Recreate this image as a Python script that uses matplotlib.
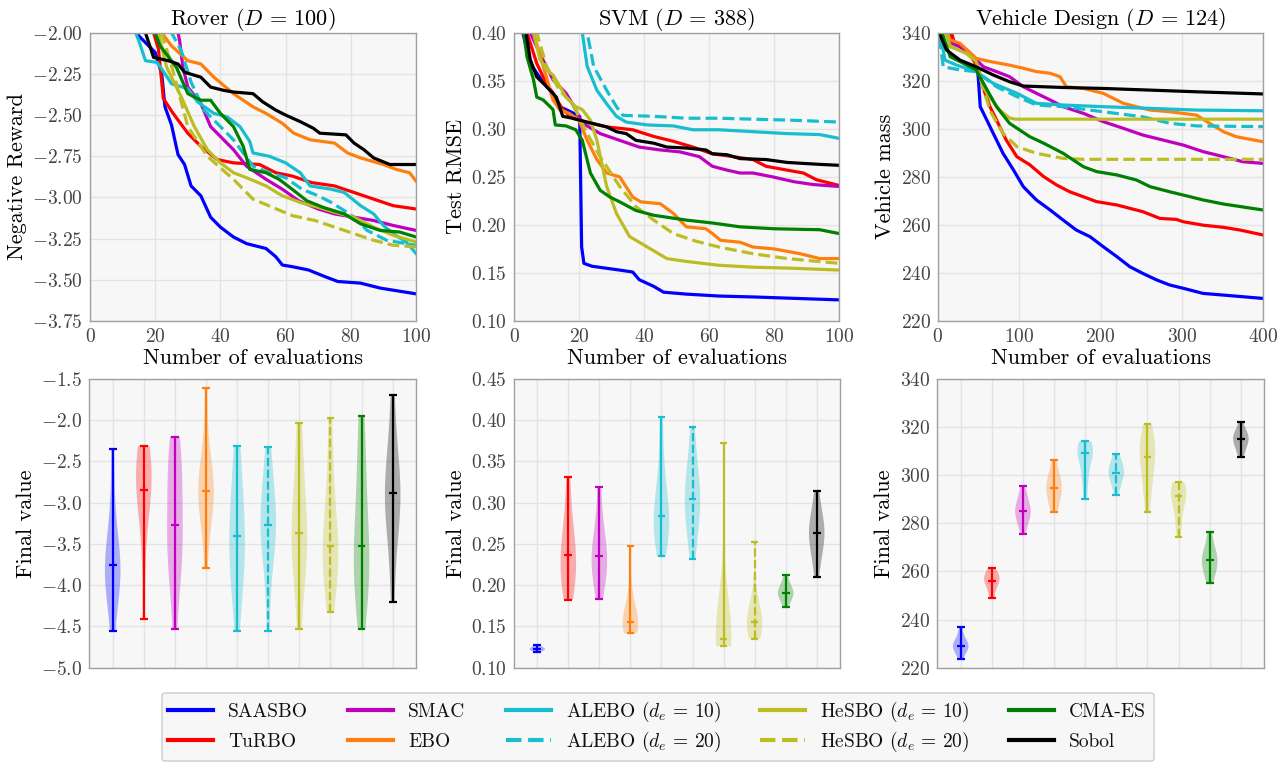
import matplotlib
matplotlib.use('Agg')
import matplotlib.pyplot as plt
from matplotlib.lines import Line2D
from matplotlib.patches import FancyBboxPatch

# Methods, colours and line styles (same order everywhere)
methods = ['SAASBO', 'TuRBO', 'SMAC', 'EBO', 'ALEBO ($d_e \\,=\\, 10$)', 'ALEBO ($d_e \\,=\\, 20$)',
           'HeSBO ($d_e \\,=\\, 10$)', 'HeSBO ($d_e \\,=\\, 20$)', 'CMA-ES', 'Sobol']
colors = ['#0000ff', '#ff0000', '#bf00bf', '#ff7f0e', '#17becf', '#17becf',
          '#bcbd22', '#bcbd22', '#008000', '#000000']
styles = ['-', '-', '-', '-', '-', '--', '-', '--', '-', '-']

# ---- Rover (D = 100): best value vs. number of evaluations ----
rover_x = [
    [10, 15, 20, 22, 23, 25, 27, 29, 31, 34, 37, 40, 44, 48, 54, 57, 59, 62, 67, 72, 76, 83, 89, 100],
    [18, 21, 22.5, 25.5, 30, 34, 39, 44, 52, 57, 62, 68, 75, 81, 87, 93, 100],
    [26, 27.5, 28.5, 30, 34, 37, 40, 44, 48, 54, 59, 64, 70, 75, 81, 87, 93, 100],
    [20, 22, 25, 30, 34, 38, 44, 50, 54, 59, 62.5, 67.5, 75, 79, 83, 90, 94, 98, 100],
    [12, 15, 17, 20.5, 22, 25, 30, 33, 38, 42, 46, 49, 50, 55, 60, 64.5, 67.5, 74, 78, 83, 87, 90, 93, 97, 100],
    [22, 25, 28, 31, 35, 40, 44, 50, 55, 60, 65, 70, 74, 78, 81, 85, 91, 100],
    [19, 21, 23.5, 28, 32, 36, 40, 44, 48, 54, 59, 64.5, 70, 75, 81, 87, 93, 100],
    [20, 22, 25, 30, 36, 44, 50, 56, 62, 69, 75, 81, 87, 93, 100],
    [18, 21.5, 26.5, 30, 34, 37, 40, 44, 47, 49, 54, 58, 62, 66.5, 71.5, 78, 83, 89, 95, 100],
    [14, 17, 19.5, 24, 27, 29, 34, 37, 41, 44, 50, 53, 57, 60, 64.5, 68.5, 70.5, 78.5, 81, 84, 87, 92, 100],
]
rover_y = [
    [-1.9, -2.02, -2.12, -2.25, -2.45, -2.56, -2.74, -2.80, -2.93, -2.99, -3.12, -3.18, -3.24, -3.28, -3.31,
     -3.36, -3.41, -3.42, -3.44, -3.48, -3.51, -3.52, -3.55, -3.585],
    [-1.9, -2.1, -2.4, -2.49, -2.61, -2.69, -2.77, -2.79, -2.80, -2.85, -2.87, -2.91, -2.93, -2.97, -3.01, -3.05, -3.07],
    [-1.9, -2.05, -2.21, -2.33, -2.43, -2.57, -2.63, -2.71, -2.81, -2.89, -2.95, -3.02, -3.07, -3.10, -3.12, -3.14,
     -3.17, -3.20],
    [-1.9, -2.0, -2.08, -2.17, -2.19, -2.27, -2.37, -2.45, -2.49, -2.55, -2.61, -2.65, -2.67, -2.73, -2.76, -2.80,
     -2.83, -2.85, -2.90],
    [-1.9, -2.05, -2.17, -2.18, -2.22, -2.31, -2.34, -2.42, -2.49, -2.51, -2.57, -2.66, -2.73, -2.75, -2.79, -2.85,
     -2.93, -2.95, -2.97, -3.05, -3.10, -3.17, -3.22, -3.27, -3.34],
    [-1.9, -2.0, -2.11, -2.30, -2.47, -2.57, -2.65, -2.81, -2.85, -2.88, -2.95, -2.99, -3.03, -3.08, -3.12, -3.20,
     -3.26, -3.29],
    [-1.9, -2.0, -2.21, -2.39, -2.57, -2.71, -2.79, -2.85, -2.88, -2.93, -2.99, -3.03, -3.06, -3.09, -3.12, -3.18,
     -3.23, -3.27],
    [-1.9, -2.0, -2.2, -2.57, -2.75, -2.89, -3.01, -3.06, -3.11, -3.14, -3.18, -3.22, -3.26, -3.29, -3.30],
    [-1.9, -2.08, -2.21, -2.37, -2.41, -2.41, -2.49, -2.57, -2.69, -2.83, -2.85, -2.89, -2.95, -3.02, -3.06, -3.10,
     -3.16, -3.20, -3.21, -3.24],
    [-1.9, -2.0, -2.15, -2.17, -2.19, -2.24, -2.27, -2.33, -2.35, -2.36, -2.37, -2.42, -2.47, -2.50, -2.54, -2.58,
     -2.61, -2.62, -2.67, -2.71, -2.76, -2.80, -2.80],
]

# ---- SVM (D = 388) ----
svm_x = [
    [2, 4, 5, 7, 10, 12, 14, 16, 19, 20.2, 20.8, 21.5, 24, 32.5, 36.5, 38.5, 43, 46, 53, 63, 74, 100],
    [3, 4, 7, 10, 12, 15, 18, 22, 28.5, 36.5, 43, 49, 55, 61, 67.5, 73.5, 77.5, 84, 89, 93, 100],
    [4, 5, 8, 12, 16, 18, 21, 26.5, 32.5, 38.5, 45, 51, 57, 61, 65.5, 69.5, 73.5, 79.5, 86, 92, 100],
    [5, 6, 9, 12, 14, 17, 20, 22.5, 25.5, 28.5, 32.5, 36.5, 39, 45, 49, 53, 59, 61, 63.5, 69.5, 73.5, 80, 88, 94, 100],
    [20.5, 21, 22.5, 25.5, 28.5, 31.5, 34.5, 41, 49, 55, 63, 73.5, 84, 94, 100],
    [21.5, 22.5, 24.5, 28.5, 31.5, 33.5, 43, 53, 63, 73.5, 85, 100],
    [5, 6, 8, 10, 12, 16, 19, 21, 23.5, 25.5, 28.5, 31.5, 35.5, 41, 47, 53, 63, 73.5, 85, 100],
    [6, 7, 10, 14, 18, 22.5, 26.5, 32.5, 37.5, 43, 49, 56, 63, 73.5, 84, 100],
    [2.5, 3, 4, 6, 7, 9, 12, 12.7, 16, 19, 21, 23.5, 26.5, 29.5, 32.5, 37.5, 43, 53, 61, 69.5, 80, 94, 100],
    [3, 3.7, 5, 7, 10, 13, 15, 18, 22.5, 28.5, 31.5, 34.5, 37.5, 43, 47, 53, 59, 61, 65.5, 69.5, 77.5, 84, 94, 100],
]
svm_y = [
    [0.41, 0.382, 0.368, 0.358, 0.344, 0.337, 0.323, 0.320, 0.315, 0.313, 0.177, 0.160, 0.157, 0.153, 0.151,
     0.143, 0.136, 0.130, 0.128, 0.126, 0.125, 0.122],
    [0.42, 0.40, 0.368, 0.347, 0.337, 0.320, 0.311, 0.307, 0.302, 0.299, 0.292, 0.287, 0.281, 0.274, 0.271,
     0.268, 0.261, 0.257, 0.254, 0.247, 0.241],
    [0.42, 0.40, 0.378, 0.351, 0.337, 0.326, 0.306, 0.295, 0.288, 0.281, 0.278, 0.276, 0.271, 0.261, 0.257,
     0.254, 0.254, 0.250, 0.245, 0.242, 0.240],
    [0.42, 0.40, 0.365, 0.330, 0.320, 0.316, 0.309, 0.288, 0.268, 0.254, 0.250, 0.229, 0.224, 0.222, 0.212,
     0.198, 0.196, 0.191, 0.184, 0.182, 0.177, 0.175, 0.170, 0.165, 0.165],
    [0.43, 0.40, 0.365, 0.340, 0.326, 0.313, 0.307, 0.304, 0.303, 0.299, 0.299, 0.297, 0.295, 0.294, 0.290],
    [0.43, 0.40, 0.365, 0.340, 0.323, 0.314, 0.313, 0.311, 0.311, 0.310, 0.309, 0.307],
    [0.42, 0.40, 0.372, 0.361, 0.356, 0.333, 0.323, 0.320, 0.309, 0.288, 0.240, 0.212, 0.188, 0.177, 0.165,
     0.162, 0.158, 0.156, 0.155, 0.153],
    [0.42, 0.40, 0.365, 0.340, 0.326, 0.295, 0.271, 0.240, 0.219, 0.205, 0.191, 0.183, 0.177, 0.170, 0.165, 0.160],
    [0.42, 0.40, 0.375, 0.351, 0.333, 0.330, 0.320, 0.304, 0.303, 0.299, 0.288, 0.254, 0.236, 0.229, 0.224,
     0.215, 0.210, 0.205, 0.202, 0.198, 0.196, 0.195, 0.191],
    [0.42, 0.40, 0.372, 0.354, 0.344, 0.333, 0.313, 0.311, 0.307, 0.302, 0.297, 0.295, 0.288, 0.285, 0.281,
     0.280, 0.278, 0.274, 0.273, 0.269, 0.268, 0.265, 0.263, 0.262],
]

# ---- Vehicle Design (D = 124) ----
veh_x = [
    [12, 15, 19, 27, 35, 47, 49.5, 52, 60, 68, 80, 93, 105, 121, 138, 154, 170, 187, 203, 220, 236, 252, 269,
     285, 302, 326, 351, 400],
    [15, 20, 30, 40, 50, 55, 64, 72, 84, 97, 113, 130, 146, 162, 179, 195, 220, 236, 252, 273, 293, 302, 326,
     351, 371, 400],
    [10, 15, 27, 39, 56, 72, 88, 105, 121, 138, 154, 179, 203, 228, 252, 277, 302, 326, 351, 375, 400],
    [10, 15, 27, 47, 64, 88, 105, 121, 138, 150, 158, 179, 203, 228, 244, 261, 285, 318, 334, 351, 367, 400],
    [3, 8.5, 23, 47, 68, 97, 121, 154, 203, 261, 318, 400],
    [2, 6.5, 27, 47, 72, 97, 121, 154, 203, 252, 285, 318, 400],
    [8, 15, 35, 47, 52, 60, 76, 88, 95, 400],
    [8, 15, 35, 47, 56, 65, 80, 97, 121, 154, 179, 400],
    [5, 15, 27, 47, 56, 72, 88, 113, 130, 154, 179, 195, 220, 244, 261, 285, 302, 326, 351, 400],
    [1.5, 10.5, 27, 47, 68, 88, 105, 154, 203, 261, 318, 400],
]
veh_y = [
    [345, 340, 335.6, 334.2, 332.8, 328.6, 321.7, 309.2, 303.7, 298.1, 289.8, 282.8, 275.9, 270.4, 266.2,
     262.0, 257.9, 255.1, 251.0, 246.8, 242.6, 239.8, 237.1, 235.0, 233.6, 231.5, 230.8, 229.4],
    [342, 336, 333.5, 330.5, 325, 317.5, 309.2, 303.7, 295.3, 288.4, 285.0, 280.1, 276.6, 273.8, 271.7,
     269.7, 268.3, 266.9, 265.5, 262.7, 262.3, 261.3, 259.9, 259.0, 257.9, 255.8],
    [342, 335.6, 334.2, 331.4, 325.8, 323.8, 321.7, 317.5, 314.8, 312.0, 309.2, 306.4, 303.0, 300.2, 297.4,
     295.3, 293.2, 290.5, 288.4, 286.3, 285.6],
    [342, 337, 335.6, 329.3, 328.0, 326.5, 325.2, 323.8, 323.1, 321.7, 317.5, 316.8, 314.8, 310.6, 309.2,
     307.8, 307.1, 305.7, 302.3, 298.8, 296.7, 294.6],
    [340, 328.6, 326.5, 323.8, 318.9, 314.8, 310.6, 309.9, 309.2, 308.5, 307.8, 307.5],
    [338, 325.8, 324.5, 323.8, 317.5, 313.4, 309.9, 309.2, 307.1, 305.0, 302.3, 301.2, 300.9],
    [342, 334.2, 331.4, 328, 321.7, 314.8, 307.8, 304.5, 304.0, 304.0],
    [342, 334.5, 331.4, 328, 316.1, 307, 298.1, 292.6, 289.8, 287.7, 287.3, 287.3],
    [340, 330, 328, 324.5, 318.9, 309.2, 302.3, 296.7, 294.0, 289.8, 284.2, 282.2, 280.8, 278.7, 275.9,
     273.8, 272.4, 270.4, 268.7, 266.2],
    [340, 332.8, 328.6, 325.8, 322.4, 319.6, 317.8, 317.2, 316.8, 316.1, 315.4, 314.5],
]

# ---- Final values per run (violins) ----
rover_final = [
    [-4.55, -4.15, -4.0, -3.95, -3.85, -3.76, -3.7, -3.6, -3.4, -3.0, -2.35],
    [-4.41, -3.6, -3.1, -2.95, -2.9, -2.85, -2.6, -2.55, -2.5, -2.4, -2.31],
    [-4.53, -3.9, -3.75, -3.6, -3.4, -3.27, -3.0, -2.7, -2.55, -2.45, -2.2],
    [-3.79, -3.3, -3.1, -3.0, -2.9, -2.86, -2.8, -2.7, -2.6, -2.3, -1.61],
    [-4.55, -4.1, -3.9, -3.75, -3.6, -3.4, -3.3, -3.1, -2.9, -2.6, -2.31],
    [-4.55, -3.9, -3.6, -3.45, -3.35, -3.27, -3.15, -3.0, -2.9, -2.6, -2.33],
    [-4.53, -4.0, -3.75, -3.6, -3.45, -3.37, -3.25, -3.0, -2.75, -2.4, -2.03],
    [-4.32, -4.0, -3.85, -3.7, -3.6, -3.525, -3.4, -3.2, -2.9, -2.5, -1.97],
    [-4.53, -4.1, -3.95, -3.85, -3.7, -3.52, -3.3, -3.0, -2.7, -2.3, -1.95],
    [-4.2, -3.6, -3.3, -3.15, -3.0, -2.88, -2.8, -2.7, -2.5, -2.2, -1.70],
]
svm_final = [
    [0.1187, 0.1205, 0.121, 0.1218, 0.1222, 0.1228, 0.1232, 0.124, 0.125, 0.126, 0.1272],
    [0.182, 0.195, 0.205, 0.215, 0.225, 0.237, 0.245, 0.255, 0.27, 0.295, 0.331],
    [0.183, 0.200, 0.212, 0.220, 0.228, 0.235, 0.242, 0.252, 0.265, 0.285, 0.319],
    [0.1415, 0.145, 0.148, 0.151, 0.153, 0.155, 0.158, 0.163, 0.172, 0.195, 0.248],
    [0.235, 0.250, 0.262, 0.270, 0.278, 0.284, 0.292, 0.305, 0.325, 0.355, 0.404],
    [0.232, 0.255, 0.275, 0.288, 0.296, 0.304, 0.315, 0.325, 0.338, 0.360, 0.392],
    [0.126, 0.128, 0.130, 0.132, 0.133, 0.1346, 0.137, 0.142, 0.155, 0.19, 0.372],
    [0.135, 0.142, 0.147, 0.151, 0.153, 0.1557, 0.158, 0.163, 0.172, 0.19, 0.2524],
    [0.174, 0.180, 0.184, 0.187, 0.189, 0.191, 0.193, 0.196, 0.199, 0.204, 0.2122],
    [0.2098, 0.230, 0.242, 0.250, 0.257, 0.2638, 0.268, 0.275, 0.283, 0.295, 0.314],
]
veh_final = [
    [223.5, 226.0, 227.0, 228.0, 228.6, 229.1, 229.8, 230.5, 231.5, 233.5, 236.7],
    [248.9, 251.0, 253.5, 255.0, 255.8, 256.2, 257.0, 258.0, 259.0, 260.0, 261.4],
    [275.6, 279.0, 281.5, 283.0, 284.3, 285.2, 286.0, 287.5, 289.5, 292.0, 295.7],
    [284.8, 287.5, 290.0, 292.0, 293.5, 294.8, 296.0, 297.5, 299.5, 302.0, 306.4],
    [290.2, 296.0, 300.0, 304.0, 307.0, 309.2, 310.0, 310.8, 311.5, 312.5, 314.1],
    [291.6, 295.0, 297.5, 299.0, 300.2, 301.1, 302.0, 303.2, 304.5, 306.5, 308.9],
    [284.8, 292.0, 297.0, 301.0, 305.0, 307.7, 310.0, 312.0, 314.0, 317.0, 321.3],
    [274.4, 279.0, 283.0, 286.5, 289.5, 291.4, 292.5, 293.5, 294.5, 295.5, 297.2],
    [255.1, 258.0, 260.0, 262.0, 263.5, 264.7, 265.8, 267.0, 269.0, 272.0, 276.3],
    [307.5, 310.0, 311.5, 313.0, 314.2, 315.1, 315.8, 316.5, 317.5, 319.0, 322.0],
]

plt.rcParams['font.family'] = ['cmr10']
plt.rcParams['mathtext.fontset'] = 'cm'
plt.rcParams['axes.formatter.use_mathtext'] = True
plt.rcParams['axes.unicode_minus'] = True

FACE = '#f7f7f7'
GRID = '#e3e3e3'
SPINE = '#a0a0a0'
TICKC = '#444444'
W, H = 1284, 762

fig = plt.figure(figsize=(W / 100, H / 100), dpi=100)

top_pos = [[0.0701, 0.5787, 0.2539, 0.3784],
           [0.4003, 0.5787, 0.2533, 0.3784],
           [0.7305, 0.5787, 0.2533, 0.3784]]
bot_pos = [[0.0696, 0.1238, 0.2544, 0.3789],
           [0.4003, 0.1238, 0.2539, 0.3789],
           [0.7300, 0.1238, 0.2546, 0.3789]]


def style_ax(ax):
    ax.set_facecolor(FACE)
    for s in ax.spines.values():
        s.set_color(SPINE)
        s.set_linewidth(1.0)
    ax.grid(True, color=GRID, linewidth=1.0)
    ax.set_axisbelow(True)
    ax.tick_params(length=0, labelsize=14, colors=TICKC, pad=5)


def fmt_tick(v, f):
    s = f.format(v).replace('-', '\u2212')
    return '$\\mathdefault{' + s + '}$'


panels = [
    ('Rover ($D \\,=\\, 100$)', 'Negative Reward', rover_x, rover_y, (0, 100), (-3.75, -2.0),
     [-3.75, -3.5, -3.25, -3.0, -2.75, -2.5, -2.25, -2.0], '{:.2f}', [0, 20, 40, 60, 80, 100]),
    ('SVM ($D \\,=\\, 388$)', 'Test RMSE', svm_x, svm_y, (0, 100), (0.10, 0.40),
     [0.10, 0.15, 0.20, 0.25, 0.30, 0.35, 0.40], '{:.2f}', [0, 20, 40, 60, 80, 100]),
    ('Vehicle Design ($D \\,=\\, 124$)', 'Vehicle mass', veh_x, veh_y, (0, 400), (220, 340),
     [220, 240, 260, 280, 300, 320, 340], '{:.0f}', [0, 100, 200, 300, 400]),
]

for pos, (title, ylab, xs, ys, xlim, ylim, yt, f, xt) in zip(top_pos, panels):
    ax = fig.add_axes(pos)
    style_ax(ax)
    for x, y, c, ls in zip(xs, ys, colors, styles):
        ax.plot(x, y, color=c, linestyle=ls, linewidth=2.3)
    ax.set_xlim(*xlim)
    ax.set_ylim(*ylim)
    ax.set_yticks(yt)
    ax.set_yticklabels([fmt_tick(v, f) for v in yt])
    ax.set_xticks(xt)
    ax.set_xticklabels([fmt_tick(v, '{:.0f}') for v in xt])
    ax.set_title(title, fontsize=16, pad=4)
    ax.set_ylabel(ylab, fontsize=16, labelpad=4)
    ax.set_xlabel('Number of evaluations', fontsize=16, labelpad=2)

violin_sets = [
    (rover_final, (-5.0, -1.5), [-5.0, -4.5, -4.0, -3.5, -3.0, -2.5, -2.0, -1.5], '{:.1f}'),
    (svm_final, (0.10, 0.45), [0.10, 0.15, 0.20, 0.25, 0.30, 0.35, 0.40, 0.45], '{:.2f}'),
    (veh_final, (220, 340), [220, 240, 260, 280, 300, 320, 340], '{:.0f}'),
]
positions = list(range(1, 11))

for pos, (data, ylim, yt, f) in zip(bot_pos, violin_sets):
    ax = fig.add_axes(pos)
    style_ax(ax)
    parts = ax.violinplot(data, positions=positions, widths=0.5,
                          showmedians=True, showextrema=True)
    for body, c in zip(parts['bodies'], colors):
        body.set_facecolor(c)
        body.set_edgecolor('none')
        body.set_alpha(0.3)
    for key in ['cbars', 'cmins', 'cmaxes', 'cmedians']:
        parts[key].set_color(colors)
        parts[key].set_linewidth(1.6)
    parts['cbars'].set_linestyles(styles)
    ax.set_xlim(0.25, 10.75)
    ax.set_xticks(positions)
    ax.set_xticklabels([])
    ax.set_ylim(*ylim)
    ax.set_yticks(yt)
    ax.set_yticklabels([fmt_tick(v, f) for v in yt])
    ax.set_ylabel('Final value', fontsize=16, labelpad=4)

# Legend: 5 columns x 2 rows, laid out by hand so that rows line up across columns
leg_frame = (162, 693, 1154, 761)          # px: left, top, right, bottom
leg_col_px = [168, 348, 506, 760, 1009]    # left end of each key line
leg_row_px = [710, 740]                    # vertical centre of each row
key_len, text_gap, base_drop = 45, 15, 7

box = FancyBboxPatch((leg_frame[0] / W, 1 - leg_frame[3] / H),
                     (leg_frame[2] - leg_frame[0]) / W, (leg_frame[3] - leg_frame[1]) / H,
                     boxstyle='round,pad=0,rounding_size=0.003', transform=fig.transFigure,
                     facecolor=FACE, edgecolor='#cccccc', linewidth=1.0)
fig.add_artist(box)
for i, (m, c, ls) in enumerate(zip(methods, colors, styles)):
    col, row = divmod(i, 2)
    x0 = leg_col_px[col]
    yc = leg_row_px[row]
    fig.add_artist(Line2D([x0 / W, (x0 + key_len) / W], [1 - yc / H, 1 - yc / H],
                          transform=fig.transFigure, color=c, linestyle=ls, linewidth=3))
    fig.text((x0 + key_len + text_gap) / W, 1 - (yc + base_drop) / H, m,
             fontsize=14, ha='left', va='baseline', color='#111111')

fig.savefig('out.png', dpi=100)
